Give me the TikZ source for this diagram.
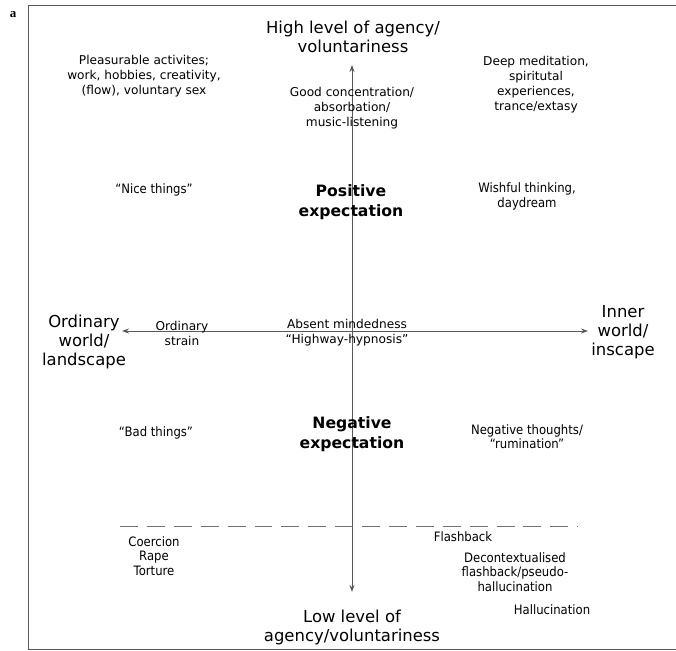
\documentclass[tikz,border=0pt]{standalone}
\usepackage{fontspec}
\setmainfont{DejaVu Sans}
\newfontfamily\narrowfont{DejaVu Sans}[FakeStretch=0.9]
\newfontfamily\panelfont{Liberation Serif}
\usetikzlibrary{arrows.meta}

\tikzset{
    txt/.style={align=center, inner sep=0pt, font=\fontsize{12.2}{15}\selectfont},
    narrowtxt/.style={align=center, inner sep=0pt, font=\narrowfont\fontsize{13}{14.5}\selectfont},
    poletxt/.style={align=center, inner sep=0pt, font=\fontsize{16.5}{19}\selectfont},
    expecttxt/.style={align=center, inner sep=0pt, font=\bfseries\fontsize{15.7}{19.5}\selectfont},
    axis/.style={draw=black!65, line width=0.9pt, {Stealth[length=7pt,width=5pt]}-{Stealth[length=7pt,width=5pt]}},
    cutline/.style={draw=black!55, line width=0.9pt, dash pattern=on 18pt off 9pt}
}

\begin{document}
\begin{tikzpicture}[x=1bp, y=-1bp]
    \useasboundingbox (0,0) rectangle (676,651);
    \clip (0,0) rectangle (676,651);

    % Panel letter and frame
    \node[font=\panelfont\bfseries\fontsize{13}{13}\selectfont, inner sep=0pt] (panel) at (13,15) {a};
    \draw[black!65, line width=0.9pt] (28,5) rectangle (690,649);

    % Axis ends
    \coordinate (agencyhigh) at (352,65);
    \coordinate (agencylow) at (352,592);
    \coordinate (outerend) at (122,331);
    \coordinate (innerend) at (588,331);

    % Axes
    \draw[axis] (agencylow) -- (agencyhigh);
    \draw[axis] (outerend) -- (innerend);

    % Pole labels
    \node[poletxt] (high) at (353,36.5) {High level of agency/\\voluntariness};
    \node[poletxt] (low) at (352,627.5) {Low level of\\agency/voluntariness};
    \node[poletxt] (ordinary) at (84,342) {Ordinary\\world/\\landscape};
    \node[poletxt] (inner) at (623,332.5) {Inner\\world/\\inscape};

    % Upper half
    \node[txt] (pleasure) at (144,76) {Pleasurable activites;\\work, hobbies, creativity,\\(flow), voluntary sex};
    \node[txt] (concentration) at (352,108) {Good concentration/\\absorbation/\\music-listening};
    \node[txt] (meditation) at (536,84.5) {Deep meditation,\\spiritutal\\experiences,\\trance/extasy};
    \node[narrowtxt] (nice) at (154,190) {“Nice things”};
    \node[expecttxt] (positive) at (351,202) {Positive\\expectation};
    \node[narrowtxt] (wishful) at (527,196.5) {Wishful thinking,\\daydream};

    % Middle row
    \node[txt] (strain) at (182,333) {Ordinary\\strain};
    \node[txt] (absent) at (347,333) {Absent mindedness\\“Highway-hypnosis”};

    % Lower half
    \node[narrowtxt] (bad) at (156,433) {“Bad things”};
    \node[expecttxt] (negative) at (352,434) {Negative\\expectation};
    \node[narrowtxt] (rumination) at (527,436.5) {Negative thoughts/\\“rumination”};

    % Below the dashed line
    \coordinate (cutleft) at (120,526);
    \coordinate (cutright) at (578,526);
    \draw[cutline] (cutleft) -- (cutright);

    \node[narrowtxt] (coercion) at (154,556) {Coercion\\Rape\\Torture};
    \node[narrowtxt] (flashback) at (463,537) {Flashback};
    \node[narrowtxt] (decontext) at (515,572) {Decontextualised\\flashback/pseudo-\\hallucination};
    \node[narrowtxt] (hallucination) at (552,610) {Hallucination};
\end{tikzpicture}
\end{document}
